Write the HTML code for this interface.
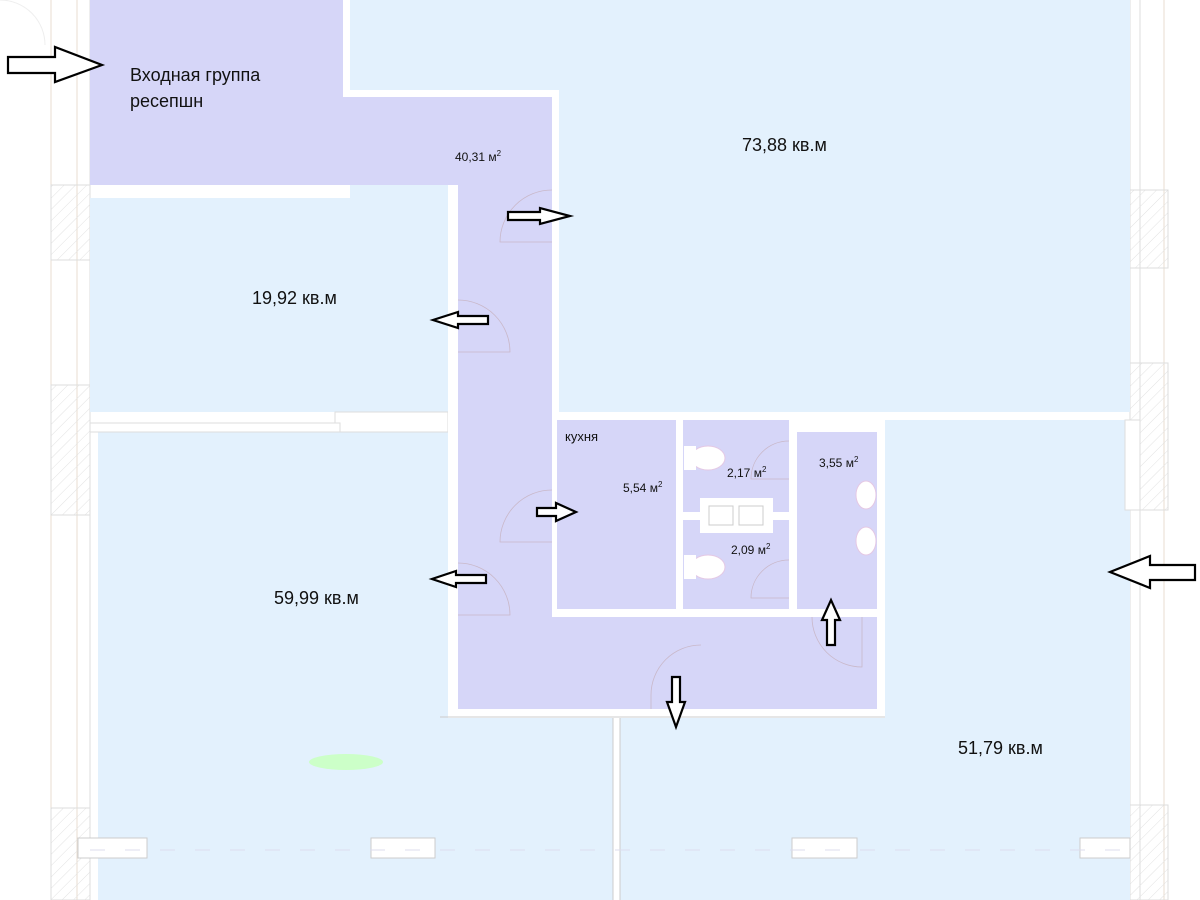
<!DOCTYPE html>
<html><head><meta charset="utf-8"><style>
html,body{margin:0;padding:0;background:#fff}
svg{display:block}
text{font-family:"Liberation Sans",sans-serif;fill:#111}
</style></head><body>
<svg width="1200" height="900" viewBox="0 0 1200 900" xmlns="http://www.w3.org/2000/svg">
<defs>
<pattern id="h" width="8" height="8" patternUnits="userSpaceOnUse" patternTransform="rotate(45)"><line x1="0" y1="0" x2="0" y2="8" stroke="#e2e2e2" stroke-width="1"/></pattern>
</defs>
<rect width="1200" height="900" fill="#fff"/>
<line x1="51" y1="0" x2="51" y2="900" stroke="#e8ddd0"/>
<line x1="77" y1="0" x2="77" y2="900" stroke="#e8ddd0"/>
<line x1="90" y1="0" x2="90" y2="900" stroke="#ddd"/>
<rect x="51" y="185" width="39" height="75" fill="url(#h)" stroke="#ddd"/>
<rect x="51" y="385" width="39" height="130" fill="url(#h)" stroke="#ddd"/>
<rect x="51" y="808" width="39" height="92" fill="url(#h)" stroke="#ddd"/>
<line x1="1130" y1="0" x2="1130" y2="900" stroke="#ddd"/>
<line x1="1140" y1="0" x2="1140" y2="900" stroke="#ddd"/>
<line x1="1164" y1="0" x2="1164" y2="900" stroke="#e8ddd0"/>
<rect x="1130" y="190" width="38" height="78" fill="url(#h)" stroke="#ddd"/>
<rect x="1130" y="363" width="38" height="147" fill="url(#h)" stroke="#ddd"/>
<rect x="1130" y="805" width="38" height="95" fill="url(#h)" stroke="#ddd"/>
<path d="M0 0 A45 45 0 0 1 45 45" fill="none" stroke="#eee"/>
<rect x="350" y="0" width="780" height="412" fill="#e3f1fd"/>
<rect x="90" y="198" width="358" height="214" fill="#e3f1fd"/>
<rect x="98" y="432" width="350" height="468" fill="#e3f1fd"/>
<rect x="448" y="718" width="165" height="182" fill="#e3f1fd"/>
<rect x="620" y="718" width="510" height="182" fill="#e3f1fd"/>
<rect x="885" y="420" width="245" height="300" fill="#e3f1fd"/>
<rect x="1125" y="420" width="15" height="90" fill="#fff" stroke="#ddd"/>
<rect x="335" y="412" width="113" height="20" fill="#fff" stroke="#ddd"/>
<rect x="90" y="423" width="250" height="9" fill="#fff" stroke="#ddd"/>
<rect x="343" y="0" width="7" height="90" fill="#fff"/>
<rect x="343" y="90" width="216" height="7" fill="#fff"/>
<rect x="552" y="90" width="7" height="330" fill="#fff"/>
<rect x="448" y="185" width="10" height="533" fill="#fff"/>
<path d="M90 0 H343 V97 H552 V617 H877 V709 H458 V185 H90 Z" fill="#d6d6f8"/>
<rect x="557" y="420" width="119" height="189" fill="#d6d6f8"/>
<rect x="683" y="420" width="106" height="92" fill="#d6d6f8"/>
<rect x="683" y="520" width="106" height="89" fill="#d6d6f8"/>
<rect x="797" y="432" width="80" height="177" fill="#d6d6f8"/>
<rect x="700" y="498" width="73" height="35" fill="#fff"/>
<rect x="709" y="506" width="24" height="19" fill="none" stroke="#ccc"/>
<rect x="739" y="506" width="24" height="19" fill="none" stroke="#ccc"/>
<line x1="613" y1="718" x2="613" y2="900" stroke="#ccc"/>
<line x1="620" y1="718" x2="620" y2="900" stroke="#ccc"/>
<line x1="440" y1="717" x2="885" y2="717" stroke="#ccc"/>
<ellipse cx="708" cy="458" rx="17" ry="12" fill="#fff" stroke="#e4c8e4"/>
<rect x="684" y="446" width="12" height="24" fill="#fff"/>
<ellipse cx="708" cy="567" rx="17" ry="12" fill="#fff" stroke="#e4c8e4"/>
<rect x="684" y="555" width="12" height="24" fill="#fff"/>
<ellipse cx="866" cy="495" rx="10" ry="14" fill="#fff" stroke="#e4c8e4"/>
<ellipse cx="866" cy="541" rx="10" ry="14" fill="#fff" stroke="#e4c8e4"/>
<g fill="none" stroke="#c9b8c9" stroke-width="0.8">
<path d="M552 190 A52 52 0 0 0 500 242 H552"/>
<path d="M458 300 A52 52 0 0 1 510 352 H458"/>
<path d="M552 490 A52 52 0 0 0 500 542 H552"/>
<path d="M458 563 A52 52 0 0 1 510 615 H458"/>
<path d="M701 645 A50 50 0 0 0 651 695 V709"/>
<path d="M812 617 A50 50 0 0 0 862 667 V617"/>
<path d="M789 441 A38 38 0 0 0 751 479 H789"/>
<path d="M789 560 A38 38 0 0 0 751 598 H789"/>
</g>
<g fill="#fff" stroke="#ccc">
<rect x="78" y="838" width="69" height="20"/>
<rect x="371" y="838" width="64" height="20"/>
<rect x="792" y="838" width="65" height="20"/>
<rect x="1080" y="838" width="50" height="20"/>
</g>
<line x1="90" y1="850" x2="1130" y2="850" stroke="#dde" stroke-dasharray="15 20"/>
<ellipse cx="346" cy="762" rx="37" ry="8" fill="#ccffc8"/>
<g fill="#fff" stroke="#000" stroke-width="2.2" stroke-linejoin="miter">
<path d="M8 57 H55 V47 L102 65 L55 82 V73 H8 Z"/>
<path d="M1195 565 H1150 V556 L1110 572 L1150 588 V580 H1195 Z"/>
<path d="M508 212 H540 V208 L570 216 L540 224 V220 H508 Z"/>
<path d="M488 316 H458 V312 L433 320 L458 328 V324 H488 Z"/>
<path d="M537 508 H556 V503 L576 512 L556 521 V516 H537 Z"/>
<path d="M486 575 H456 V571 L432 579 L456 587 V583 H486 Z"/>
<path d="M827 645 V620 H822 L831 600 L840 620 H835 V645 Z"/>
<path d="M672 677 V702 H667 L676 727 L685 702 H680 V677 Z"/>
</g>
<text x="130" y="81" font-size="18">Входная группа</text>
<text x="130" y="107" font-size="18">ресепшн</text>
<text x="455" y="161" font-size="12">40,31 м<tspan font-size="8" dy="-5">2</tspan></text>
<text x="742" y="151" font-size="18">73,88 кв.м</text>
<text x="252" y="304" font-size="18">19,92 кв.м</text>
<text x="274" y="604" font-size="18">59,99 кв.м</text>
<text x="958" y="754" font-size="18">51,79 кв.м</text>
<text x="565" y="441" font-size="13">кухня</text>
<text x="623" y="492" font-size="12">5,54 м<tspan font-size="8" dy="-5">2</tspan></text>
<text x="727" y="477" font-size="12">2,17 м<tspan font-size="8" dy="-5">2</tspan></text>
<text x="731" y="554" font-size="12">2,09 м<tspan font-size="8" dy="-5">2</tspan></text>
<text x="819" y="467" font-size="12">3,55 м<tspan font-size="8" dy="-5">2</tspan></text>
</svg>
</body></html>
